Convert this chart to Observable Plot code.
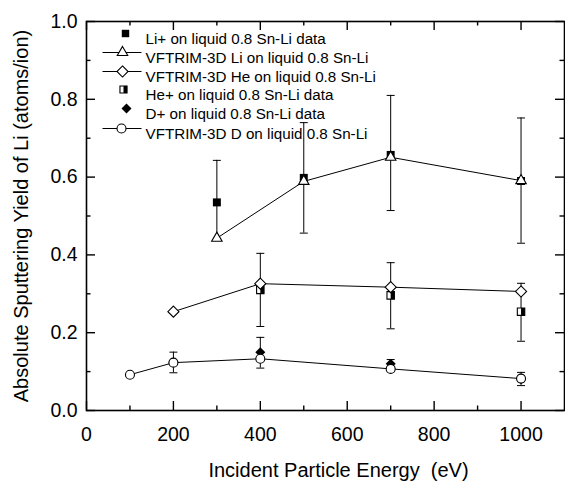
<!DOCTYPE html>
<html>
<head>
<meta charset="utf-8">
<script src="https://cdn.jsdelivr.net/npm/d3@7"></script>
<script src="https://cdn.jsdelivr.net/npm/@observablehq/plot@0.6"></script>
<style>
  html, body { margin: 0; padding: 0; background: #fff; }
  svg { display: block; }
</style>
</head>
<body>
<div id="chart"></div>
<script>
// ---- data ----
const liEnergy = [300, 500, 700, 1000];
const liData   = [0.535, 0.598, 0.657, 0.590];
const liLo     = [0.440, 0.456, 0.514, 0.430];
const liHi     = [0.643, 0.740, 0.810, 0.752];
const vfLiVals = [0.443, 0.589, 0.651, 0.591];

const vfHeEnergy = [200, 400, 700, 1000];
const vfHeVals   = [0.254, 0.326, 0.317, 0.306];

const heEnergy = [400, 700, 1000];
const heData   = [0.310, 0.296, 0.254];
const heLo     = [0.216, 0.210, 0.178];
const heHi     = [0.404, 0.380, 0.327];

const dEnergy = [200, 400, 700, 1000];
const dData   = [0.124, 0.150, 0.120, 0.081];
const dLo     = [0.097, 0.109, 0.108, 0.064];
const dHi     = [0.150, 0.188, 0.131, 0.098];

const vfDEnergy = [100, 200, 400, 700, 1000];
const vfDVals   = [0.092, 0.123, 0.133, 0.107, 0.082];

const xMajor = [0, 200, 400, 600, 800, 1000];
const xMinor = [100, 300, 500, 700, 900];
const yMajor = [0, 0.2, 0.4, 0.6, 0.8, 1.0];
const yMinor = [0.1, 0.3, 0.5, 0.7, 0.9];

const legendLabels = [
  "Li+ on liquid 0.8 Sn-Li data",
  "VFTRIM-3D Li on liquid 0.8 Sn-Li",
  "VFTRIM-3D He on liquid 0.8 Sn-Li",
  "He+ on liquid 0.8 Sn-Li data",
  "D+ on liquid 0.8 Sn-Li data",
  "VFTRIM-3D D on liquid 0.8 Sn-Li"
];

const xTitle = "Incident Particle Energy\u00a0 (eV)";
const yTitle = "Absolute Sputtering Yield of Li (atoms/ion)";

// ---- tables ----
const pts = (xs, ys) => xs.map((e, i) => ({e, v: ys[i]}));
const errs = (xs, ys, lo, hi) => xs.map((e, i) => ({e, v: ys[i], lo: lo[i], hi: hi[i]}));
const liT = errs(liEnergy, liData, liLo, liHi);
const heT = errs(heEnergy, heData, heLo, heHi);
const dT = errs(dEnergy, dData, dLo, dHi);
const vfLi = pts(liEnergy, vfLiVals);
const vfHe = pts(vfHeEnergy, vfHeVals);
const vfD = pts(vfDEnergy, vfDVals);

// ---- custom symbols ----
const hline = (half) => ({draw(ctx) { ctx.moveTo(-half, 0); ctx.lineTo(half, 0); }});
const rightHalf = {draw(ctx, size) {
  const s = Math.sqrt(size) / 2;
  ctx.moveTo(0, -s); ctx.lineTo(s, -s); ctx.lineTo(s, s); ctx.lineTo(0, s); ctx.closePath();
}};

const W = 565, H = 488, ML = 86, MR = 1, MT = 21, MB = 78;
const IW = W - ML - MR, IH = H - MT - MB;
const FONT = "Liberation Sans, Arial, Helvetica, sans-serif";

const marks = [];

// inward ticks
const majorLen = 9, minorLen = 4.5;
marks.push(
  Plot.ruleX(xMajor, {x: d => d, insetTop: IH - majorLen, stroke: "black", strokeWidth: 1.4}),
  Plot.ruleX(xMinor, {x: d => d, insetTop: IH - minorLen, stroke: "black", strokeWidth: 1.4}),
  Plot.ruleX(xMajor, {x: d => d, insetBottom: IH - majorLen, stroke: "black", strokeWidth: 1.4}),
  Plot.ruleX(xMinor, {x: d => d, insetBottom: IH - minorLen, stroke: "black", strokeWidth: 1.4}),
  Plot.ruleY(yMajor, {y: d => d, insetRight: IW - majorLen, stroke: "black", strokeWidth: 1.4}),
  Plot.ruleY(yMinor, {y: d => d, insetRight: IW - minorLen, stroke: "black", strokeWidth: 1.4}),
  Plot.ruleY(yMajor, {y: d => d, insetLeft: IW - majorLen, stroke: "black", strokeWidth: 1.4}),
  Plot.ruleY(yMinor, {y: d => d, insetLeft: IW - minorLen, stroke: "black", strokeWidth: 1.4})
);

// model lines
for (const s of [vfLi, vfHe, vfD]) {
  marks.push(Plot.line(s, {x: "e", y: "v", stroke: "black", strokeWidth: 1}));
}

// error bars
for (const t of [liT, heT, dT]) {
  marks.push(
    Plot.ruleX(t, {x: "e", y1: "lo", y2: "hi", stroke: "black", strokeWidth: 1}),
    Plot.dot(t, {x: "e", y: "hi", symbol: hline(4), r: 1, stroke: "black", fill: "none", strokeWidth: 1}),
    Plot.dot(t, {x: "e", y: "lo", symbol: hline(4), r: 1, stroke: "black", fill: "none", strokeWidth: 1})
  );
}

// markers
marks.push(
  Plot.dot(liT, {x: "e", y: "v", symbol: "square", r: 4.5, fill: "black", stroke: "none"}),
  Plot.dot(vfLi, {x: "e", y: "v", symbol: "triangle", r: 3.9, fill: "white", stroke: "black", strokeWidth: 1.1}),
  Plot.dot(heT, {x: "e", y: "v", symbol: "square", r: 4.2, fill: "white", stroke: "black", strokeWidth: 1.1}),
  Plot.dot(heT, {x: "e", y: "v", symbol: rightHalf, r: 4.2, fill: "black", stroke: "none"}),
  Plot.dot(vfHe, {x: "e", y: "v", symbol: "diamond2", r: 5, fill: "white", stroke: "black", strokeWidth: 1.1}),
  Plot.dot(dT, {x: "e", y: "v", symbol: "diamond2", r: 4.5, fill: "black", stroke: "none"}),
  Plot.dot(vfD, {x: "e", y: "v", symbol: "circle", r: 4.5, fill: "white", stroke: "black", strokeWidth: 1.1})
);

// legend
const rowDy = [12, 31, 50, 68, 87, 107];
const legendSyms = [
  {line: false, symbol: "square", r: 4.2, fill: "black", stroke: "none", dx: 39},
  {line: true, symbol: "triangle", r: 3.9, fill: "white", stroke: "black", dx: 36},
  {line: true, symbol: "diamond2", r: 5, fill: "white", stroke: "black", dx: 36},
  {line: false, symbol: "square", r: 4, fill: "white", stroke: "black", dx: 37, half: true},
  {line: false, symbol: "diamond2", r: 4.5, fill: "black", stroke: "none", dx: 40},
  {line: true, symbol: "circle", r: 4.5, fill: "white", stroke: "black", dx: 35}
];
legendLabels.forEach((label, i) => {
  const s = legendSyms[i];
  if (s.line) {
    marks.push(Plot.dot([label], {frameAnchor: "top-left", dx: 35.5, dy: rowDy[i], symbol: hline(19.5), r: 1, stroke: "black", fill: "none", strokeWidth: 1}));
  }
  marks.push(Plot.dot([label], {frameAnchor: "top-left", dx: s.dx, dy: rowDy[i], symbol: s.symbol, r: s.r, fill: s.fill, stroke: s.stroke, strokeWidth: 1.1}));
  if (s.half) {
    marks.push(Plot.dot([label], {frameAnchor: "top-left", dx: s.dx, dy: rowDy[i], symbol: rightHalf, r: s.r, fill: "black", stroke: "none"}));
  }
  marks.push(Plot.text([label], {frameAnchor: "top-left", dx: 59, dy: rowDy[i], text: d => d, textAnchor: "start", fontSize: 15.2, fill: "black"}));
});

// frame, axes, titles
marks.push(
  Plot.frame({stroke: "black", strokeWidth: 1.6}),
  Plot.axisX({ticks: xMajor, tickSize: 0, tickPadding: 17, tickFormat: d => String(d), fontSize: 19.5, label: null}),
  Plot.axisY({ticks: yMajor, tickSize: 0, tickPadding: 9, tickFormat: d3.format(".1f"), fontSize: 19.5, label: null}),
  Plot.text([xTitle], {frameAnchor: "bottom", dx: 13, dy: 66, text: d => d, fontSize: 20, fill: "black"}),
  Plot.text([yTitle], {frameAnchor: "left", dx: -65, rotate: -90, textAnchor: "middle", text: d => d, fontSize: 20, fill: "black"})
);

const chart = Plot.plot({
  width: W,
  height: H,
  marginLeft: ML,
  marginRight: MR,
  marginTop: MT,
  marginBottom: MB,
  style: {fontFamily: FONT, color: "black", background: "white"},
  x: {domain: [0, 1100]},
  y: {domain: [0, 1]},
  marks
});
document.getElementById("chart").appendChild(chart);
</script>
</body>
</html>
